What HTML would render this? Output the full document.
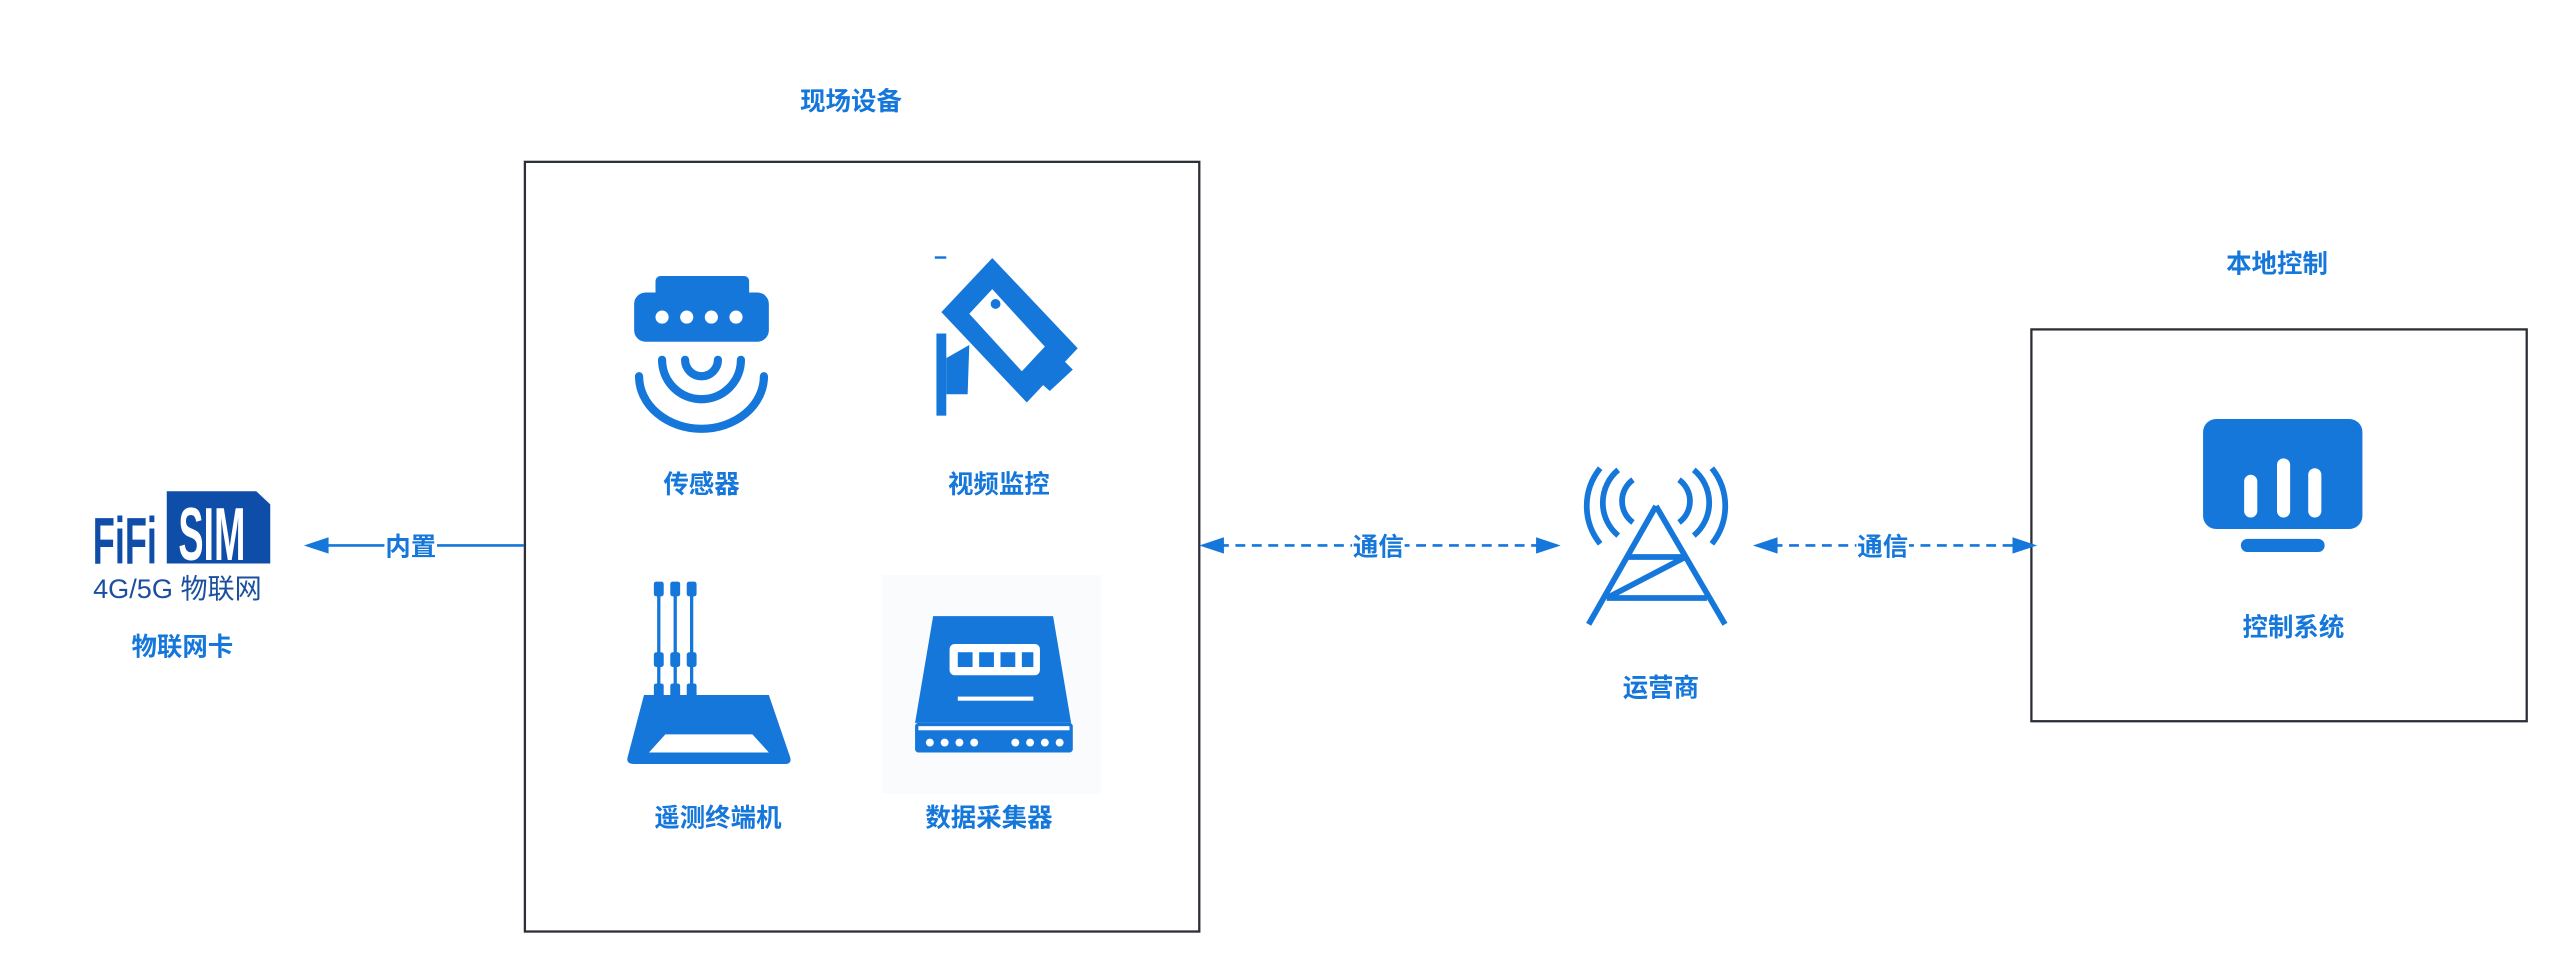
<!DOCTYPE html>
<html><head><meta charset="utf-8"><style>
html,body{margin:0;padding:0;background:#fff;width:2576px;height:980px;overflow:hidden}
svg{display:block}
text{font-family:"Liberation Sans","Noto Sans CJK SC",sans-serif;font-weight:bold;fill:#1677db}
</style></head><body>
<svg width="2576" height="980" viewBox="0 0 1568 596.5" xmlns="http://www.w3.org/2000/svg">
<g font-size="15.5" text-anchor="middle">
<text x="518" y="67">现场设备</text>
<text x="1386" y="166">本地控制</text>
<text x="427" y="300">传感器</text>
<text x="608" y="300">视频监控</text>
<text x="437" y="503">遥测终端机</text>
<text x="602" y="503">数据采集器</text>
<text x="111" y="399">物联网卡</text>
<text x="1011" y="424">运营商</text>
<text x="1396" y="387">控制系统</text>
</g>
<rect x="319.5" y="98.5" width="410.5" height="468.5" fill="none" stroke="#2b2f36" stroke-width="1.4"/>
<rect x="1236.5" y="200.5" width="301.5" height="238.5" fill="none" stroke="#2b2f36" stroke-width="1.4"/>
<g stroke="#1677db" stroke-width="1.6" fill="none">
<line x1="319" y1="332" x2="195" y2="332"/>
<line x1="742" y1="332" x2="938" y2="332" stroke-dasharray="6,4"/>
<line x1="1079" y1="332" x2="1228" y2="332" stroke-dasharray="6,4"/>
</g>
<g fill="#1677db">
<polygon points="185,332 200,327 200,337"/>
<polygon points="730,332 745,327 745,337"/>
<polygon points="950,332 935,327 935,337"/>
<polygon points="1067,332 1082,327 1082,337"/>
<polygon points="1240,332 1225,327 1225,337"/>
</g>
<rect x="234" y="322" width="32" height="20" fill="#fff"/>
<rect x="823" y="322" width="32" height="20" fill="#fff"/>
<rect x="1130" y="322" width="32" height="20" fill="#fff"/>
<g font-size="15.5" text-anchor="middle">
<text x="250" y="338">内置</text>
<text x="839" y="338">通信</text>
<text x="1146" y="338">通信</text>
</g>
<polygon points="101.5,299 156,299 164.5,307 164.5,343 101.5,343" fill="#0f4ea8"/>
<text x="129" y="341" font-size="46" style="fill:#fff" text-anchor="middle" transform="translate(129 0) scale(0.5 1) translate(-129 0)">SIM</text>
<text x="76" y="343" font-size="40" style="fill:#0f4ea8" text-anchor="middle" transform="translate(76 0) scale(0.55 1) translate(-76 0)">FiFi</text>
<text x="108" y="364" font-size="16.5" style="fill:#1a4fa0;font-weight:normal" text-anchor="middle">4G/5G 物联网</text>
<g fill="#1677db">
<rect x="399" y="168" width="57" height="16" rx="3"/>
<rect x="386" y="178" width="82" height="30" rx="7"/>
</g>
<g fill="#fff"><circle cx="403" cy="193" r="4"/><circle cx="418" cy="193" r="4"/><circle cx="433" cy="193" r="4"/><circle cx="448" cy="193" r="4"/></g>
<g fill="none" stroke="#1677db" stroke-width="5" stroke-linecap="round">
<path d="M417,219 A10,10 0 0 0 437,219"/>
<path d="M403,219 A24,24 0 0 0 451,219"/>
<path d="M389,229 A38,32 0 0 0 465,229"/>
</g>
<g fill="#1677db">
<polygon points="573,190 604,157 656,212 625,245"/>
<polygon points="630,230 645,217 653,225 639,238"/>
<rect x="570" y="203" width="6" height="50"/>
<polygon points="576,218 590,210 589,240 576,240"/>
</g>
<polygon points="590,191 604,176 636,211 622,226" fill="#fff"/>
<circle cx="606" cy="185" r="3" fill="#1677db"/>
<rect x="569" y="156" width="7" height="1.5" fill="#1677db"/>
<g fill="none" stroke="#1677db" stroke-width="2"><line x1="401" y1="356" x2="401" y2="425"/><line x1="411" y1="356" x2="411" y2="425"/><line x1="421" y1="356" x2="421" y2="425"/></g>
<g fill="#1677db">
<rect x="398" y="354" width="6" height="9" rx="1.5"/><rect x="408" y="354" width="6" height="9" rx="1.5"/><rect x="418" y="354" width="6" height="9" rx="1.5"/>
<rect x="398" y="397" width="6" height="9" rx="1.5"/><rect x="408" y="397" width="6" height="9" rx="1.5"/><rect x="418" y="397" width="6" height="9" rx="1.5"/>
<rect x="398" y="416" width="6" height="9" rx="1.5"/><rect x="408" y="416" width="6" height="9" rx="1.5"/><rect x="418" y="416" width="6" height="9" rx="1.5"/>
<path d="M392,423 L468,423 L481,461 Q482,465 478,465 L386,465 Q381,465 382,461 Z"/>
</g>
<polygon points="405,447 458,447 468,458 395,458" fill="#fff"/>
<rect x="537" y="350" width="133" height="133" fill="#f9fbfd"/>
<g fill="#1677db">
<polygon points="568,375 641,375 652,440 557,440"/>
<rect x="557" y="440" width="96" height="18" rx="2"/>
</g>
<rect x="578" y="392" width="55" height="19" rx="3" fill="#fff"/>
<g fill="#1677db"><rect x="583" y="397" width="9" height="9"/><rect x="596" y="397" width="9" height="9"/><rect x="609" y="397" width="9" height="9"/><rect x="622" y="397" width="7" height="9"/></g>
<rect x="583" y="424" width="46" height="2.5" fill="#fff"/>
<rect x="559" y="442" width="92" height="2.5" fill="#fff"/>
<g fill="#fff"><circle cx="566" cy="452" r="2.4"/><circle cx="575" cy="452" r="2.4"/><circle cx="584" cy="452" r="2.4"/><circle cx="593" cy="452" r="2.4"/><circle cx="618" cy="452" r="2.4"/><circle cx="627" cy="452" r="2.4"/><circle cx="636" cy="452" r="2.4"/><circle cx="645" cy="452" r="2.4"/></g>
<g fill="none" stroke="#1677db" stroke-width="3.5">
<path d="M1008,308 L967,380 M1008,308 L1050,380 M990,339 L1026,339 M978,364 L1039,364 M978,364 L1026,339"/>
<path d="M994,292 A16,16 0 0 0 994,318"/>
<path d="M985,286 A26,26 0 0 0 985,326"/>
<path d="M974,285 A40,38 0 0 0 974,331"/>
<path d="M1022,292 A16,16 0 0 1 1022,318"/>
<path d="M1031,286 A26,26 0 0 1 1031,326"/>
<path d="M1042,285 A40,38 0 0 1 1042,331"/>
</g>
<rect x="1341" y="255" width="97" height="67" rx="8" fill="#1677db"/>
<g fill="#fff">
<rect x="1366" y="289" width="8" height="26" rx="4"/>
<rect x="1386" y="279" width="8" height="36" rx="4"/>
<rect x="1405" y="285" width="8" height="30" rx="4"/>
</g>
<rect x="1364" y="328" width="51" height="8" rx="4" fill="#1677db"/>
</svg>
</body></html>
